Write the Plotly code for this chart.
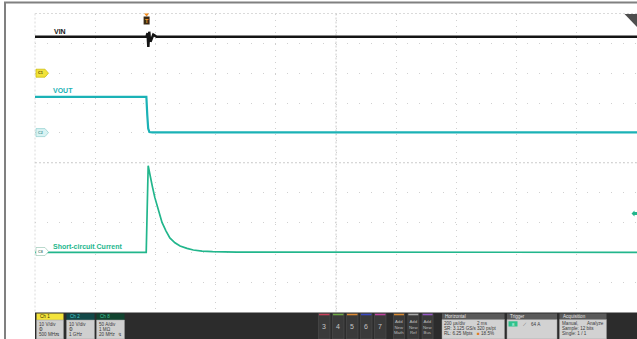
import plotly.graph_objects as go

W, H = 637, 339

# ---------------- data ----------------
# times in microseconds relative to trigger
vin_t = [-370, 0, 4, 6.5, 9.5, 12, 15, 19, 23, 28, 34, 1630]
vin_v = [12.2, 12.2, 13.4, 8.8, 13.9, 11.0, 10.9, 12.0, 12.9, 12.6, 12.2, 12.2]

vout_t = [-370, 0, 3, 6, 10, 20, 1630]
vout_v = [12.1, 12.1, 6.0, 1.5, 0.3, 0.2, 0.2]

cur_t = [-370, -0.5, 6, 12, 20, 28, 37, 45, 52, 65, 78, 95, 112, 135, 156, 185, 220, 300, 1630]
cur_a = [0, 0, 145, 128, 110, 92, 76, 62, 50, 36, 24, 16, 10.6, 6.5, 3.9, 2.0, 1.0, 0.3, 0]

# channel settings (scale per division, vertical position in divisions)
ch1_scale, ch1_pos = 10, 3
ch2_scale, ch2_pos = 10, 1
ch8_scale, ch8_pos = 50, -3
time_div = 200          # us/div
trig_pct = 18.5         # trigger position, % of record

x_range = [-trig_pct / 100 * 10 * time_div, (1 - trig_pct / 100) * 10 * time_div]

def to_div(vals, scale, pos):
    return [v / scale + pos for v in vals]

# ---------------- geometry helpers ----------------
PL, PR, PT, PB = 35, 637, 13.5, 312

def X(x):
    return x / W

def Y(y):
    return 1 - y / H

shapes = []
annos = []

def rect(x0, y0, x1, y1, fill, line=None, lw=0.6):
    shapes.append(dict(type="rect", xref="paper", yref="paper",
                       x0=X(x0), x1=X(x1), y0=Y(y1), y1=Y(y0),
                       fillcolor=fill, layer="above",
                       line=dict(color=line or fill, width=lw if line else 0)))

def seg(x0, y0, x1, y1, color, w=1, dash="solid"):
    shapes.append(dict(type="line", xref="paper", yref="paper",
                       x0=X(x0), x1=X(x1), y0=Y(y0), y1=Y(y1), layer="below",
                       line=dict(color=color, width=w, dash=dash)))

def poly(pts, fill, line=None, lw=0.6):
    p = "M " + " L ".join(f"{X(a):.5f},{Y(b):.5f}" for a, b in pts) + " Z"
    shapes.append(dict(type="path", xref="paper", yref="paper", path=p,
                       fillcolor=fill, layer="above",
                       line=dict(color=line or fill, width=lw if line else 0)))

def text(x, y, s, size, color, bold=False, anchor="left", family="Liberation Sans"):
    if bold:
        s = "<b>" + s + "</b>"
    annos.append(dict(x=X(x), y=Y(y), xref="paper", yref="paper", text=s,
                      showarrow=False, xanchor=anchor, yanchor="middle",
                      borderpad=0, font=dict(size=size, color=color, family=family)))

# ---------------- figure ----------------
fig = go.Figure()

VIN_C = "#141414"
VOUT_C = "#1bb2b6"
CUR_C = "#22b68c"

fig.add_trace(go.Scatter(x=vin_t, y=to_div(vin_v, ch1_scale, ch1_pos), mode="lines",
                         line=dict(color=VIN_C, width=2.5), hoverinfo="skip", showlegend=False))
fig.add_trace(go.Scatter(x=vout_t, y=to_div(vout_v, ch2_scale, ch2_pos), mode="lines",
                         line=dict(color=VOUT_C, width=2.2), hoverinfo="skip", showlegend=False))
fig.add_trace(go.Scatter(x=cur_t, y=to_div(cur_a, ch8_scale, ch8_pos), mode="lines",
                         line=dict(color=CUR_C, width=1.7), hoverinfo="skip", showlegend=False))

GRID = "#d0d0d0"
fig.update_xaxes(domain=[X(PL), X(PR)], range=x_range, showticklabels=False, ticks="",
                 showgrid=True, tick0=x_range[0], dtick=time_div, gridcolor=GRID,
                 gridwidth=1, griddash="1px,5px", zeroline=False, showline=False, fixedrange=True)
fig.update_yaxes(domain=[Y(PB), Y(PT)], range=[-5, 5], showticklabels=False, ticks="",
                 showgrid=True, tick0=-5, dtick=1, gridcolor=GRID, gridwidth=1,
                 griddash="1px,11px", zeroline=False, showline=False, fixedrange=True)

# center lines and border of graticule
cx = (PL + PR) / 2
cy = (PT + PB) / 2
seg(cx, PT, cx, PB, "#cccccc", 1, "2px,2px")
seg(PL, cy, PR, cy, "#cccccc", 1, "2px,2px")
seg(PL, PT, PR, PT, "#dadada", 1, "2px,2px")
seg(PL, PT, PL, PB, "#dadada", 1, "2px,2px")

# outer window frame lines
shapes.append(dict(type="line", xref="paper", yref="paper", x0=X(4), x1=1, y0=Y(2.5), y1=Y(2.5),
                   line=dict(color="#808080", width=2), layer="above"))
shapes.append(dict(type="line", xref="paper", yref="paper", x0=X(5), x1=X(5), y0=Y(2), y1=0,
                   line=dict(color="#808080", width=2), layer="above"))

# trace labels
text(52.5, 31.5, "VIN", 7, VIN_C, bold=True)
text(51.5, 90.5, "VOUT", 7, VOUT_C, bold=True)
text(51.5, 246, "Short-circuit Current", 7, CUR_C, bold=True)

# channel ground markers
def marker(y, fill, edge, label, tcolor):
    poly([(36, y - 4), (45, y - 4), (48.5, y), (45, y + 4), (36, y + 4)], fill, edge, 0.7)
    text(40.5, y, label, 3.8, tcolor, bold=True, anchor="center")

marker(73.2, "#f1e23a", "#c9b800", "C1", "#4a4400")
marker(132.6, "#d9f3f3", "#8fcfcf", "C2", "#4a9a9a")
marker(251.5, "#ffffff", "#9cc9b8", "C8", "#5a8a7a")

# trigger time marker
TX = 146.6
poly([(TX - 2.5, 13.5), (TX + 2.5, 13.5), (TX, 16.5)], "#f08c1e")
rect(TX - 3, 16.5, TX + 3, 24.5, "#3b2a14")
text(TX, 20.7, "T", 5.5, "#f39a2a", bold=True, anchor="center")

# trigger level marker (right edge)
poly([(631.5, 213.5), (634.5, 210.5), (634.5, 212), (637, 212), (637, 215), (634.5, 215), (634.5, 216.5)],
     CUR_C)

# top right corner badge
poly([(624.5, 14), (637, 14), (637, 27)], "#4e4e4e")

# ---------------- status bar ----------------
rect(PL, 312.5, 637, 339, "#2c2c2c")

BODY = "#cfcfcf"
BT = "#3a3a3a"
SZ = 4.6

def ch_badge(x0, x1, head_fill, head_col, name, rows, icon=False):
    rect(x0, 313.5, x1, 320, head_fill)
    rect(x0, 320, x1, 339, BODY, "#9a9a9a", 0.5)
    text(x0 + 2, 316.8, name, SZ, head_col)
    for r, yy in zip(rows, [324, 329.3, 334.5]):
        text(x0 + 1.5, yy, r, SZ, BT)
    if icon:
        text(x1 - 2, 334, "↯", SZ, BT, anchor="right", family="DejaVu Sans")

ch_badge(36.5, 63.5, "#f3e33b", "#3a3600", "Ch 1", ["10 V/div", "Φ", "500 MHz"], True)
ch_badge(66.5, 94.5, "#124848", "#46c8c8", "Ch 2", ["10 V/div", "Φ", "1 GHz"])
ch_badge(96.5, 124.5, "#11432f", "#3cc495", "Ch 8", ["50 A/div", "1 MΩ", "20 MHz"], True)

btn_labels = ["3", "4", "5", "6", "7"]
btn_cols = ["#c8405a", "#6ea844", "#de8a34", "#3a48c0", "#c042a0"]
for i, (lab, col) in enumerate(zip(btn_labels, btn_cols)):
    x0 = 318.5 + i * 14
    rect(x0, 313.5, x0 + 11.5, 339, "#3a3a3a", "#555555", 0.5)
    rect(x0 + 0.5, 313.8, x0 + 11, 315.3, col)
    text(x0 + 5.75, 326.5, lab, 7, "#c4c4c4", anchor="center")

add_labels = ["Math", "Ref", "Bus"]
add_cols = ["#d88a34", "#a8a8a8", "#9458c4"]
for i, (lab, col) in enumerate(zip(add_labels, add_cols)):
    x0 = 393.5 + i * 14.3
    rect(x0, 313.5, x0 + 11, 339, "#3a3a3a", "#555555", 0.5)
    rect(x0 + 0.5, 313.8, x0 + 10.5, 315.3, col)
    text(x0 + 5.5, 327, "Add<br>New<br>" + lab, 4.3, "#bdbdbd", anchor="center")

def info_box(x0, x1, title):
    rect(x0, 313.5, x1, 319.5, "#5a5a5a")
    rect(x0, 319.5, x1, 339, "#d2d2d2", "#9a9a9a", 0.5)
    text(x0 + 2, 316.6, title, SZ, "#e6e6e6")

R1, R2, R3 = 323, 328.4, 333.8
info_box(442, 504.5, "Horizontal")
text(443.5, R1, "200 µs/div", SZ, BT)
text(476, R1, "2 ms", SZ, BT)
text(443.5, R2, "SR: 3.125 GS/s", SZ, BT)
text(476, R2, "320 ps/pt", SZ, BT)
text(443.5, R3, "RL: 6.25 Mpts", SZ, BT)
text(476, R3, "<span style='color:#e07a20'>■</span> 18.5%", SZ, BT)

info_box(507, 557, "Trigger")
rect(508.5, 321.3, 517.5, 326.5, "#2fc28c")
text(513, 324, "8", 4.2, "#eafff6", anchor="center")
text(521.5, 324, "⟋", SZ, BT, family="DejaVu Sans")
text(530, 324, "64 A", SZ, BT)

info_box(559.5, 606.5, "Acquisition")
text(561, R1, "Manual,", SZ, BT)
text(586, R1, "Analyze", SZ, BT)
text(561, R2, "Sample: 12 bits", SZ, BT)
text(561, R3, "Single: 1 / 1", SZ, BT)

fig.update_layout(width=W, height=H, autosize=False,
                  margin=dict(l=0, r=0, t=0, b=0, pad=0),
                  paper_bgcolor="white", plot_bgcolor="white",
                  shapes=shapes, annotations=annos, showlegend=False)

fig.write_html("out.html", config={"displayModeBar": False},
               post_script="document.body.style.margin='0px';document.body.style.padding='0px';"
                           "document.body.style.overflow='hidden';")
